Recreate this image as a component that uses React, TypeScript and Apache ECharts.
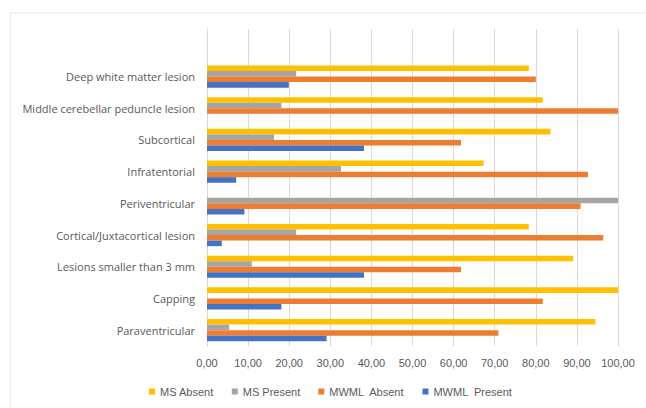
import React, { useEffect, useRef } from "react";
import * as echarts from "echarts";

const categories = [
  "",
  "Deep white matter lesion",
  "Middle cerebellar peduncle lesion",
  "Subcortical",
  "Infratentorial",
  "Periventricular",
  "Cortical/Juxtacortical lesion",
  "Lesions smaller than 3 mm",
  "Capping",
  "Paraventricular",
];

const msAbsent = [null, 78.3, 81.7, 83.6, 67.3, 0, 78.3, 89.1, 100, 94.5];
const msPresent = [null, 21.7, 18.1, 16.3, 32.6, 100, 21.7, 10.9, 0, 5.4];
const mwmlAbsent = [null, 80.0, 100, 61.8, 92.7, 90.9, 96.4, 61.8, 81.7, 70.9];
const mwmlPresent = [null, 19.9, 0, 38.2, 7.1, 9.1, 3.6, 38.2, 18.1, 29.1];

const seriesNames = ["MS Absent", "MS Present", "MWML  Absent", "MWML  Present"];
const seriesColors = ["#FFC000", "#A5A5A5", "#ED7D31", "#4472C4"];
const seriesData = [msAbsent, msPresent, mwmlAbsent, mwmlPresent];

const fmt = (v: number) => v.toFixed(2).replace(".", ",");

export default function App() {
  const ref = useRef<HTMLDivElement>(null);
  useEffect(() => {
    if (!ref.current) return;
    const chart = echarts.init(ref.current, undefined, { renderer: "svg" });
    const font = "Liberation Sans, Arial, sans-serif";
    chart.setOption({
      animation: false,
      backgroundColor: "#ffffff",
      textStyle: { fontFamily: font },
      graphic: [
        {
          type: "rect",
          shape: { x: 10, y: 13, width: 660, height: 420 },
          style: { fill: "none", stroke: "#e6e6e6", lineWidth: 1 },
          silent: true,
        },
      ],
      grid: { left: 207, right: 28, top: 29, bottom: 62 },
      legend: {
        left: 144,
        top: 381,
        itemWidth: 6,
        itemHeight: 6,
        itemGap: 18,
        icon: "rect",
        data: seriesNames,
        textStyle: { color: "#595959", fontSize: 11, fontFamily: font },
      },
      xAxis: {
        type: "value",
        min: 0,
        max: 100,
        interval: 10,
        axisLine: { show: false },
        axisTick: { show: false },
        axisLabel: {
          color: "#595959",
          fontSize: 11,
          margin: 11,
          formatter: (v: number) => fmt(v),
        },
        splitLine: { lineStyle: { color: "#d9d9d9", width: 1 } },
      },
      yAxis: {
        type: "category",
        data: categories,
        inverse: true,
        axisLine: { show: true, lineStyle: { color: "#d9d9d9" } },
        axisTick: { show: false },
        axisLabel: {
          color: "#595959",
          fontSize: 11,
          margin: 12,
          fontFamily: "Open Sans, sans-serif",
        },
      },
      series: seriesNames.map((name, i) => ({
        name,
        type: "bar",
        data: seriesData[i],
        itemStyle: { color: seriesColors[i] },
        barGap: "0%",
        barCategoryGap: "30%",
      })),
    });
    return () => chart.dispose();
  }, []);
  return (
    <div
      ref={ref}
      style={{ position: "fixed", left: 0, top: 0, width: 646, height: 408 }}
    />
  );
}
